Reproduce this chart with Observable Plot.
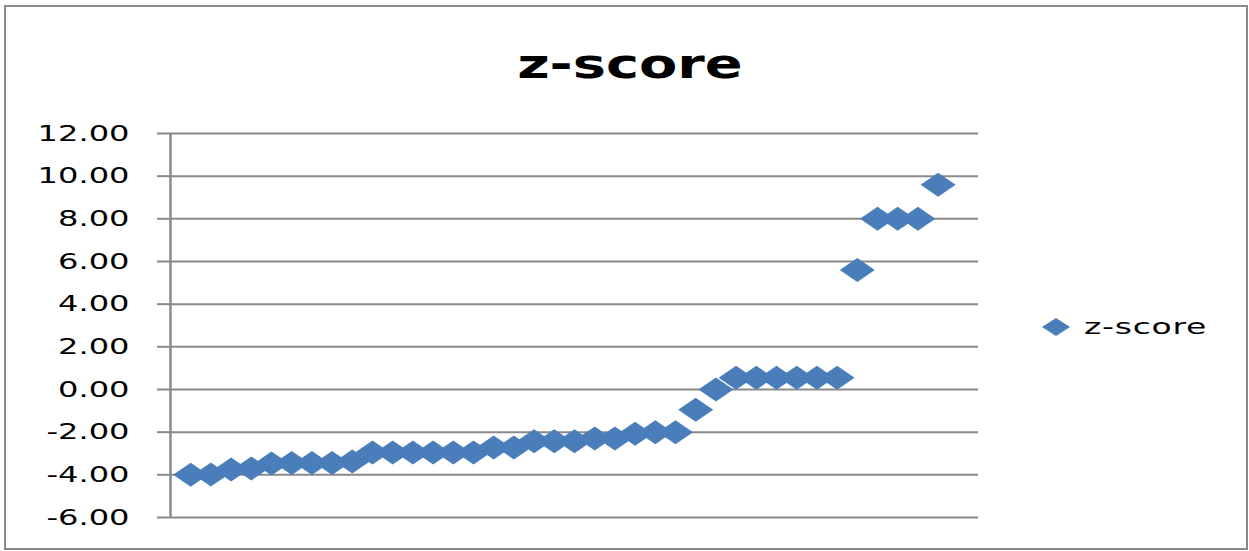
<!DOCTYPE html>
<html>
<head>
<meta charset="utf-8">
<script src="https://cdn.jsdelivr.net/npm/d3@7"></script>
<script src="https://cdn.jsdelivr.net/npm/@observablehq/plot@0.6"></script>
<style>
  html, body { margin: 0; padding: 0; background: #fff; }
  #wrap { position: relative; width: 1249px; height: 551px; overflow: hidden; font-family: "DejaVu Sans", Verdana, sans-serif; }
  #border { position: absolute; left: 4px; top: 5px; width: 1240px; height: 541px; border: 2.5px solid #8a8a8a; pointer-events: none; }
  #title { position: absolute; left: 0; width: 1249px; top: 40px; text-align: center; font-weight: bold; font-size: 41px; color: #000; }
  #title span { display: inline-block; transform: scaleX(1.36); transform-origin: center; margin-left: 10px; }
  #legend { position: absolute; left: 1040px; top: 314px; display: flex; align-items: center; }
  #legend span { display: inline-block; font-size: 22px; color: #000; transform: scaleX(1.5); transform-origin: left center; margin-left: 12px; letter-spacing: 0.5px; }
</style>
</head>
<body>
<div id="wrap">
  <div id="chart"></div>
  <div id="title"><span>z-score</span></div>
  <div id="legend"><svg width="32" height="22" viewBox="-16 -11 32 22"><path d="M0,-9L14,0L0,9L-14,0Z" fill="#4A7EBB"/></svg><span>z-score</span></div>
  <div id="border"></div>
</div>
<script>
const seriesName = "z-score";
const xIndex = [1,2,3,4,5,6,7,8,9,10,11,12,13,14,15,16,17,18,19,20,21,22,23,24,25,26,27,28,29,30,31,32,33,34,35,36,37,38];
const zScore = [-4.0,-3.98,-3.75,-3.7,-3.47,-3.45,-3.45,-3.45,-3.37,-2.95,-2.95,-2.95,-2.95,-2.95,-2.95,-2.72,-2.72,-2.43,-2.43,-2.42,-2.3,-2.3,-2.07,-2.0,-2.0,-0.95,0.0,0.55,0.55,0.55,0.55,0.55,0.55,5.6,8.0,8.0,8.0,9.6];
const yTicks = [-6,-4,-2,0,2,4,6,8,10,12];

const data = xIndex.map((x, i) => ({x, y: zScore[i]}));

const diamond = {
  draw(ctx) {
    ctx.moveTo(0, -12);
    ctx.lineTo(17.5, 0);
    ctx.lineTo(0, 12);
    ctx.lineTo(-17.5, 0);
    ctx.closePath();
  }
};

const plot = Plot.plot({
  width: 1249,
  height: 551,
  marginLeft: 170,
  marginRight: 271,
  marginTop: 133,
  marginBottom: 34,
  x: {domain: [0, 40], axis: null},
  y: {domain: [-6, 12]},
  style: {fontFamily: "DejaVu Sans, Verdana, sans-serif", background: "transparent"},
  marks: [
    Plot.ruleY(yTicks, {stroke: "#8a8a8a", strokeWidth: 2, strokeOpacity: 1}),
    Plot.ruleX([0], {y1: -6, y2: 12, stroke: "#8a8a8a", strokeWidth: 2.5, strokeOpacity: 1}),
    Plot.axisY({ticks: yTicks, tickFormat: d => d.toFixed(2), tickSize: 13, tickPadding: 28, fontSize: 22, stroke: "#8a8a8a", strokeWidth: 2, strokeOpacity: 1, fill: "#000", label: null}),
    Plot.dot(data, {x: "x", y: "y", symbol: diamond, fill: "#4A7EBB", stroke: "none"})
  ]
});

document.getElementById("chart").appendChild(plot);

// Horizontal stretch of tick labels to mimic the reference's wide type
plot.querySelectorAll('g[aria-label="y-axis tick label"] text').forEach(t => {
  const tr = t.getAttribute("transform");
  if (tr) t.setAttribute("transform", tr + " scale(1.46,1)");
  else {
    const x = +t.getAttribute("x") || 0, y = +t.getAttribute("y") || 0;
    t.setAttribute("transform", `translate(${x},${y}) scale(1.46,1) translate(${-x},${-y})`);
  }
});
</script>
</body>
</html>
